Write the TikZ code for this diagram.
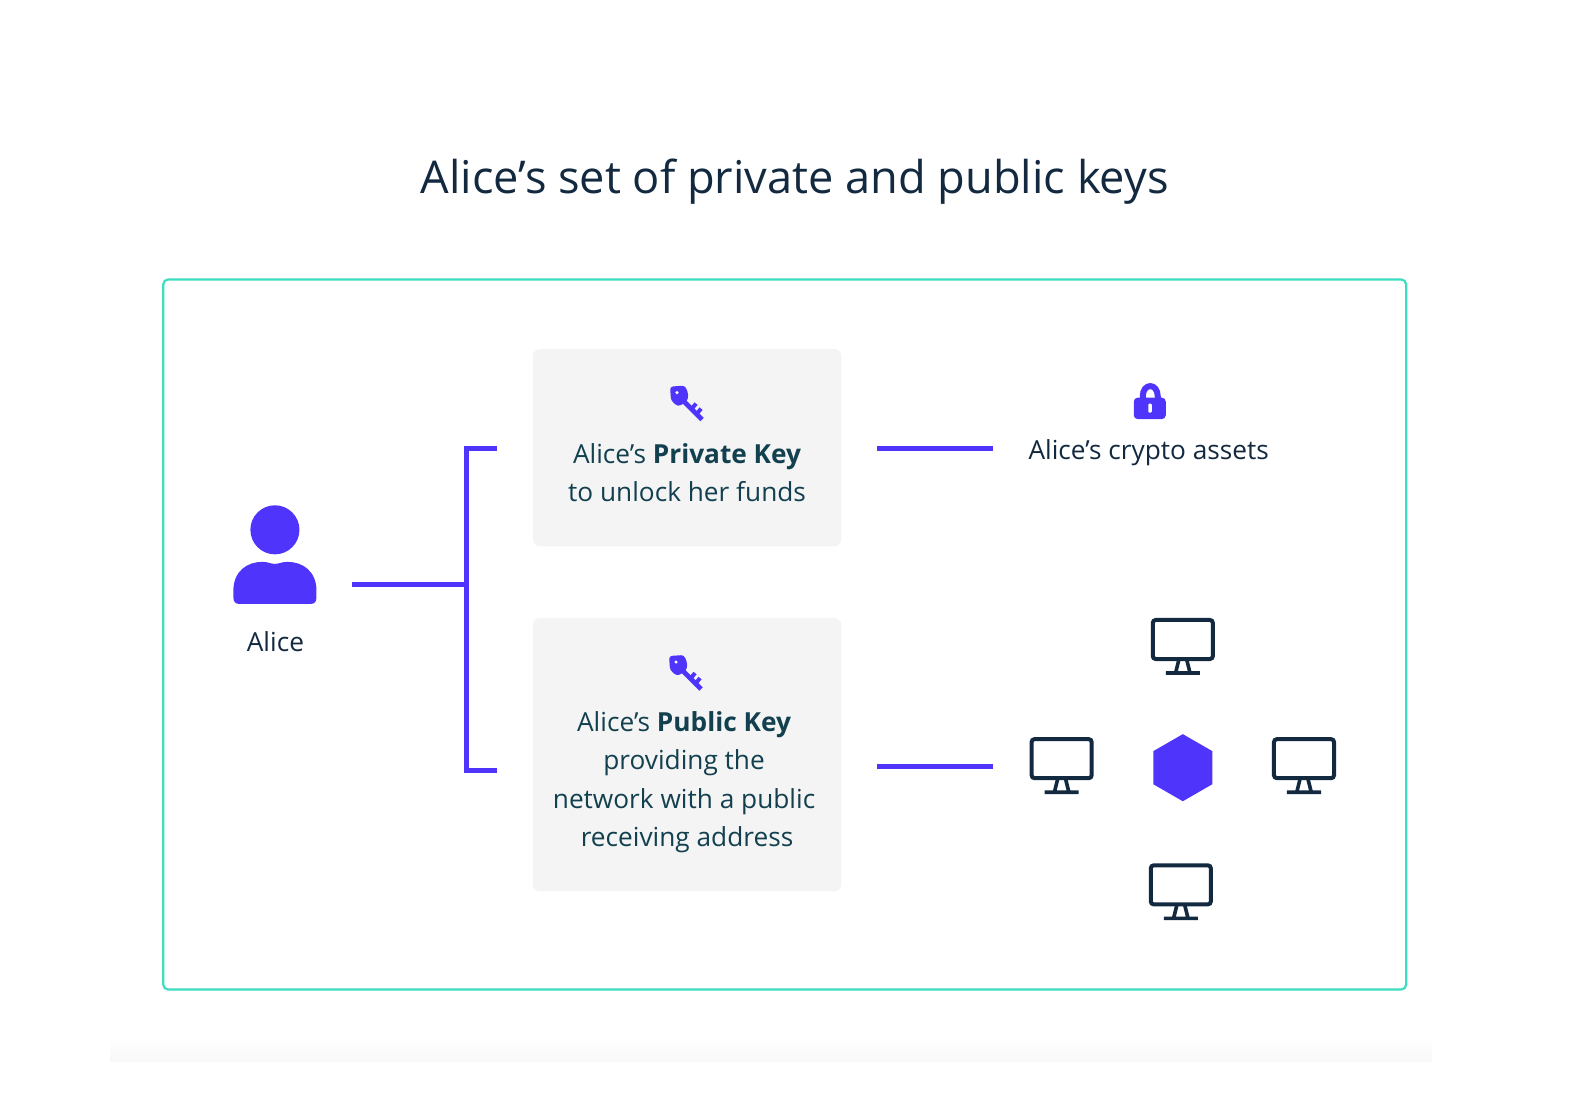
\documentclass[tikz,border=0pt]{standalone}
\usepackage{fontspec}
\setmainfont{Open Sans}
\usetikzlibrary{positioning}
\definecolor{inkblue}{HTML}{12293F}
\definecolor{tealtext}{HTML}{12404F}
\definecolor{violet}{HTML}{4F35FB}
\definecolor{mint}{HTML}{3CDDC0}
\definecolor{panelgray}{HTML}{F4F4F4}
\def\personhead{(274.5,529) circle (24.5)}
\def\personbody{(233,596) -- (233,590) .. controls (233,570) and (247,561) .. (262,561) .. controls (268,561) and (270,563) .. (274.5,563) .. controls (279,563) and (281,561) .. (287,561) .. controls (302,561) and (316,570) .. (316,590) -- (316,596) .. controls (316,601) and (314,603) .. (310,603) -- (239,603) .. controls (235,603) and (233,601) .. (233,596) -- cycle}
\def\monitorscreen{(-30,-26) rectangle (30,13)}
\def\monitorstand{(-4,14) -- (-7,26) (4,14) -- (7,26) (-17,27) -- (17,27)}
\tikzset{
  panel/.style={fill=panelgray,rounded corners=3.5pt,minimum width=154pt,minimum height=#1,inner sep=0},
  bodytext/.style={font=\fontsize{13.1}{19}\selectfont,text=tealtext,align=center,inner sep=0},
  link/.style={draw=violet,line width=2.4pt},
  screen/.style={draw=inkblue,line width=2pt,rounded corners=1.5pt},
}
\begin{document}
\begin{tikzpicture}[x=.5pt,y=-.5pt]
\useasboundingbox (0,0) rectangle (1567.6,1092.4);
\shade[top color=white,bottom color=black!3] (110,1036) rectangle (1430,1060);
\node[font=\fontsize{22.55}{26}\selectfont,text=inkblue,inner sep=0] (title) at (793.5,181) {Alice’s set of private and public keys};
\draw[mint,line width=1.1pt,rounded corners=2.5pt] (163,279) rectangle (1404,988);
% person
\fill[violet] \personhead;
\fill[violet] \personbody;
\node[bodytext,text=inkblue] (alice) at (275,641) {Alice};
% panels
\node[panel=98.5pt] (privatebox) at (686,447) {};
\node[panel=136.5pt] (publicbox) at (686,753.5) {};
\node[bodytext] (privatetext) at (686,472) {Alice’s \textbf{Private Key}\\to unlock her funds};
\node[bodytext] (publictext) at (683,781) {Alice’s \textbf{Public Key}\\providing the\\network with a public\\\hspace*{3pt}receiving address};
% keys
\foreach \keyx/\keyy in {669/385,668/654}{
  \begin{scope}[shift={(\keyx,\keyy)}]
    \fill[violet,rounded corners=1.5pt] (0,1) -- (15,0) -- (18.5,9) -- (17,16) -- (8,21) -- (1,15) -- cycle;
    \draw[violet,line width=2.4pt] (12,14) -- (32,34);
    \draw[violet,line width=2pt] (21,24) -- (26,18) (26,29) -- (31,23);
    \fill[white] (7,7) circle (1.7);
  \end{scope}
}
% lock
\draw[violet,line width=3pt] (1141,400) -- (1141,396) .. controls (1141,382) and (1156,382) .. (1156,396) -- (1156,400);
\fill[violet,rounded corners=2pt] (1132,397) rectangle (1164,418.5);
\fill[white,rounded corners=.5pt] (1146.5,403) rectangle (1150,412);
\node[bodytext,text=inkblue] (assets) at (1147,451.5) {Alice’s crypto assets};
% links
\coordinate (source) at (351.5,583.5);
\coordinate (spine) at (465.5,583.5);
\coordinate (uppertip) at (496,448);
\coordinate (lowertip) at (496,769);
\draw[link] (source) -- (spine);
\draw[link] (uppertip) -| (spine) |- (lowertip);
\coordinate (privateout) at (876,448);
\coordinate (assetsin) at (991,448);
\coordinate (publicout) at (876,765);
\coordinate (hubin) at (991,765);
\draw[link] (privateout) -- (assetsin);
\draw[link] (publicout) -- (hubin);
% hub
\fill[violet] (1181,733) -- (1210.5,750) -- (1210.5,783) -- (1181,800) -- (1151.5,783) -- (1151.5,750) -- cycle;
% monitors
\foreach \monx/\mony in {1181/645,1060/764,1302/764,1179/890}{
  \begin{scope}[shift={(\monx,\mony)}]
    \draw[screen] \monitorscreen;
    \draw[inkblue,line width=1.8pt] \monitorstand;
  \end{scope}
}
\end{tikzpicture}
\end{document}
